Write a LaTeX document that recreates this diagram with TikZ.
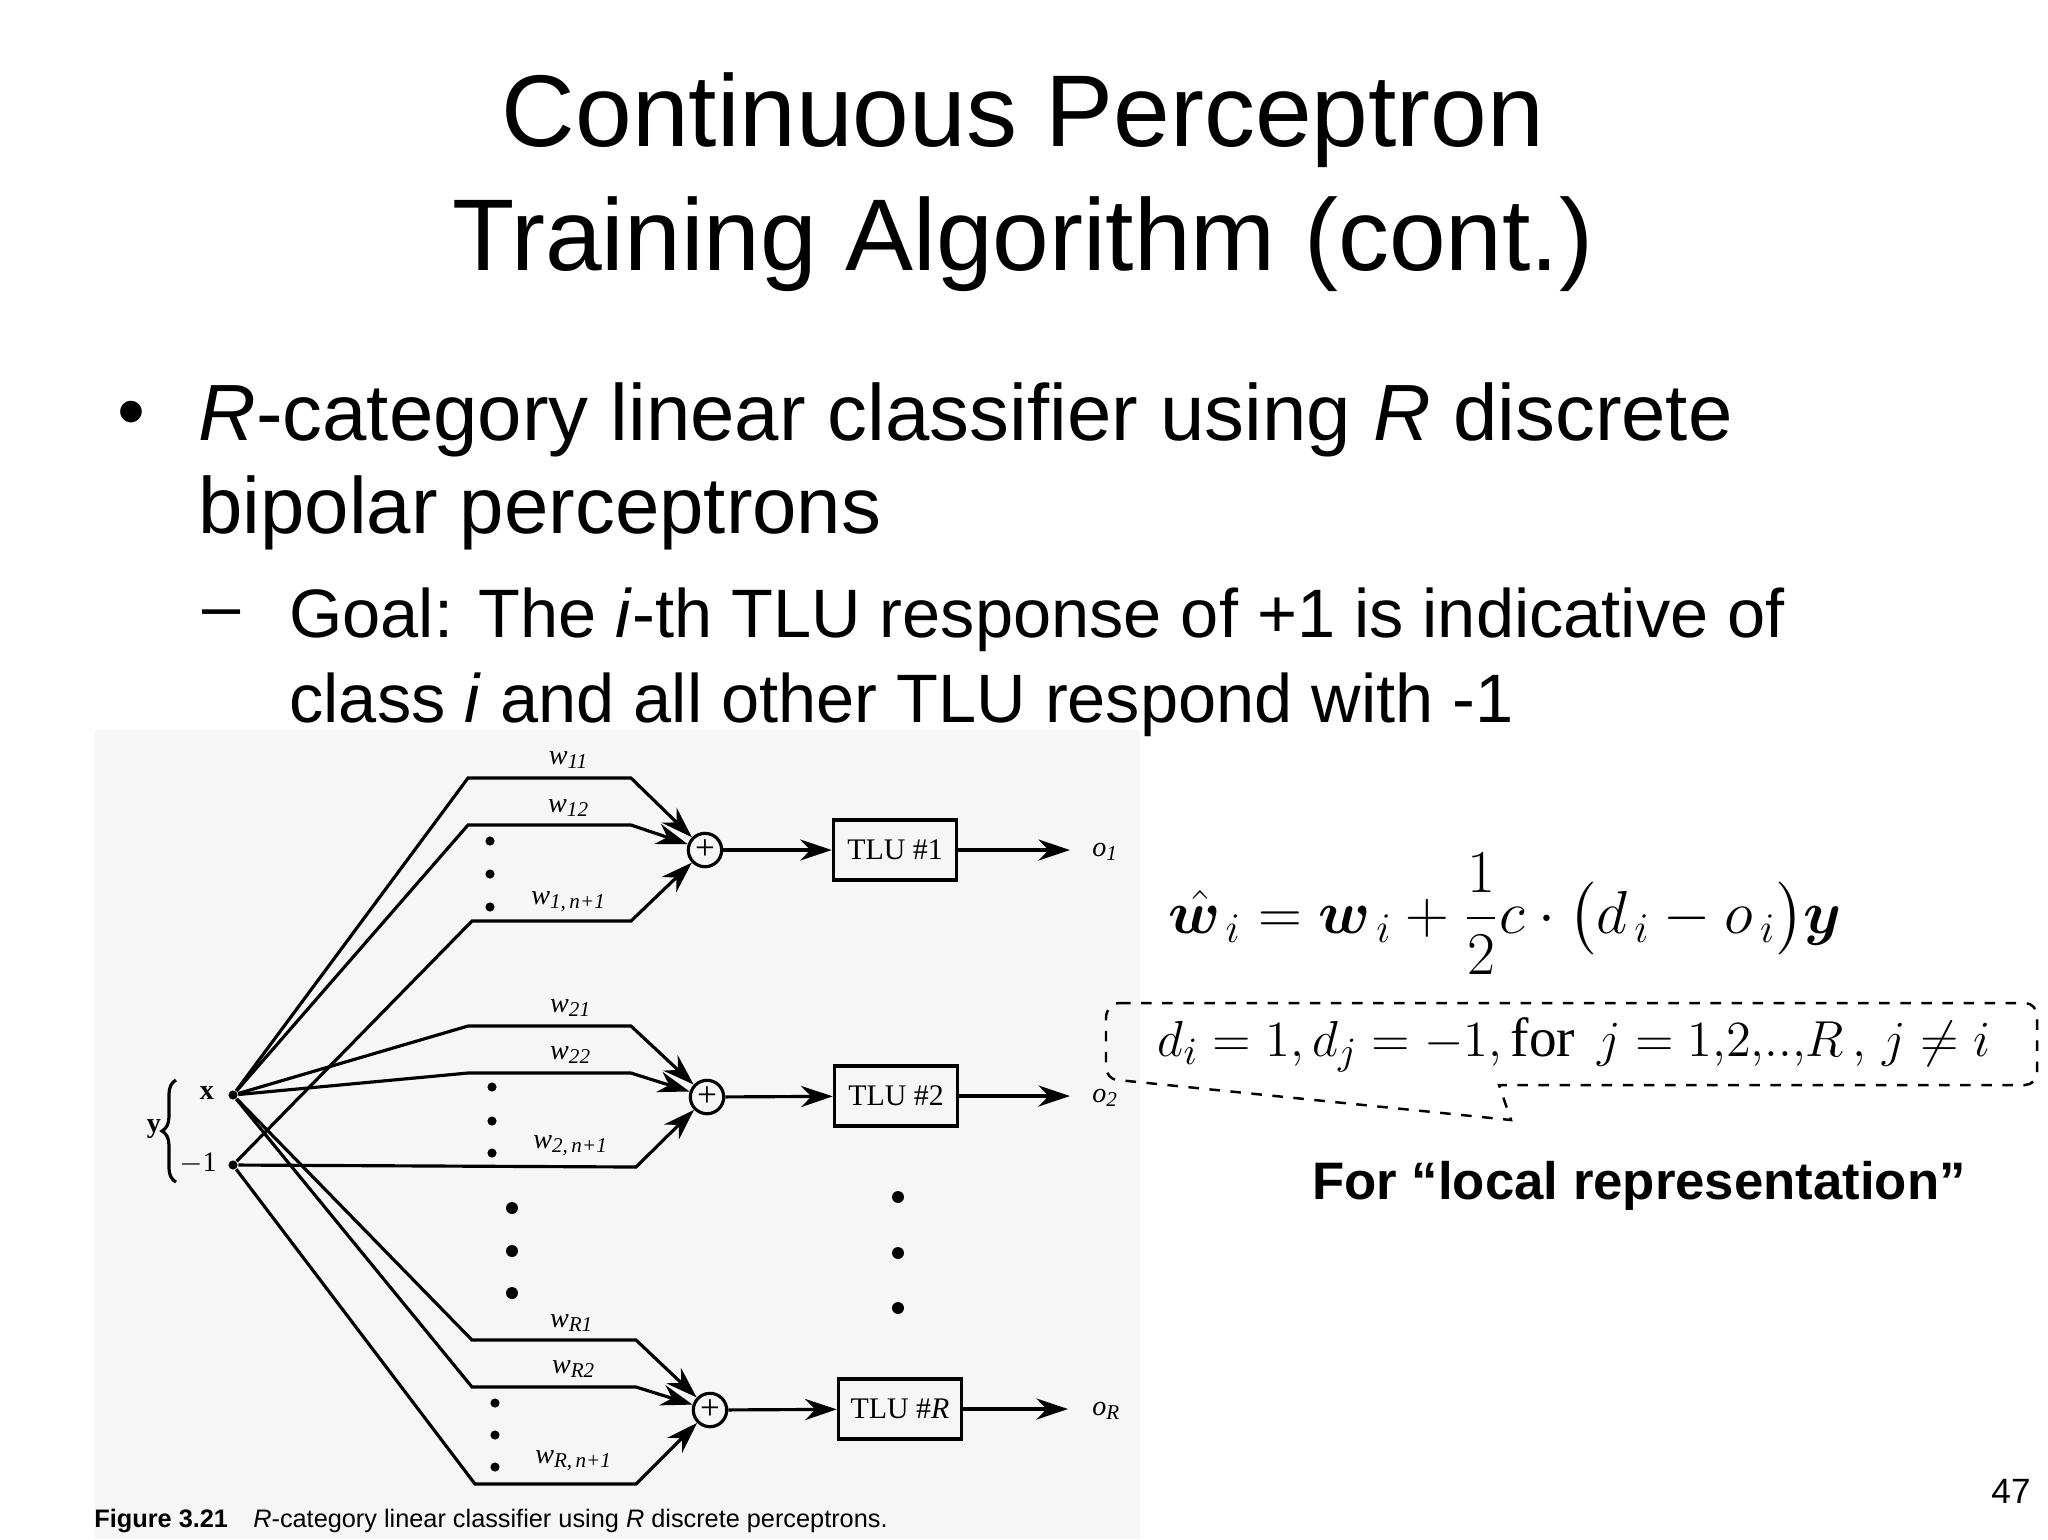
\documentclass[tikz,border=0pt]{standalone}
\usepackage{amsmath,bm}
\usepackage{fontspec}
\setmainfont{Liberation Sans}
\newfontfamily\tms{Liberation Serif}
\usetikzlibrary{arrows.meta,decorations.pathreplacing}
\begin{document}
\begin{tikzpicture}[x=0.1mm,y=-0.1mm,
  arr/.style={line width=0.9pt,-{Stealth[length=9pt,width=6pt]}},
  ln/.style={line width=0.9pt},
  sumn/.style={circle,draw,line width=0.9pt,minimum size=9.5pt,inner sep=0pt,font=\tms\fontsize{10}{10}\selectfont},
  tlu/.style={draw,line width=1pt,minimum width=35pt,minimum height=17pt,font=\tms\fontsize{8.5}{9}\selectfont},
  wl/.style={font=\tms\itshape\fontsize{8}{9}\selectfont},
  dt/.style={circle,fill,inner sep=0pt,minimum size=2.6pt},
  bdt/.style={circle,fill,inner sep=0pt,minimum size=3.4pt}]
\useasboundingbox (0,0) rectangle (2048,1539);
\fill[gray!7] (95,730) rectangle (1140,1539);
% title
\node (t1) at (1023,120) {\fontsize{29}{34}\selectfont Continuous Perceptron};
\node (t2) at (1023,244) {\fontsize{29}{34}\selectfont Training Algorithm (cont.)};
\node (b1) at (131,420) {\fontsize{22.7}{26}\selectfont •};
\node[anchor=west] (l1) at (186,420) {\fontsize{22.7}{26}\selectfont \textit{R}-category linear classifier using \textit{R} discrete};
\node[anchor=west] (l2) at (186,513) {\fontsize{22.7}{26}\selectfont bipolar perceptrons};
\node (b2) at (222,620) {\fontsize{19.5}{24}\selectfont –};
\node[anchor=west] (l3) at (277,620) {\fontsize{19.5}{24}\selectfont Goal: The \textit{i}-th TLU response of +1 is indicative of};
\node[anchor=west] (l4) at (277,705) {\fontsize{19.5}{24}\selectfont class \textit{i} and all other TLU respond with -1};
% inputs
\node[dt] (x) at (233,1095) {};
\node[dt] (m) at (233,1165) {};
\node[font=\tms\bfseries\fontsize{8}{9}\selectfont] (xl) at (207,1093) {x};
\node[font=\tms\fontsize{8}{9}\selectfont] (ml) at (198,1164) {$-$1};
\draw[ln,decorate,decoration={brace,amplitude=4pt}] (176,1182) -- (176,1080);
\node[font=\tms\bfseries\fontsize{8}{9}\selectfont] (yl) at (154,1129) {y};
% sums and TLUs
\node[sumn] (s1) at (705,850) {+};
\node[sumn] (s2) at (707,1097) {+};
\node[sumn] (sR) at (710,1410) {+};
\node[tlu] (T1) at (895,850) {TLU \#1};
\node[tlu] (T2) at (896,1096) {TLU \#2};
\node[tlu] (TR) at (900,1409) {TLU \#\textit{R}};
\coordinate (o1e) at (1070,850);
\coordinate (o2e) at (1070,1096);
\coordinate (oRe) at (1068,1409);
\draw[arr] (s1) -- (T1); \draw[arr] (T1) -- (o1e);
\draw[arr] (s2) -- (T2); \draw[arr] (T2) -- (o2e);
\draw[arr] (sR) -- (TR); \draw[arr] (TR) -- (oRe);
\node[wl,anchor=west] (o1) at (1080,852) {o\textsubscript{1}};
\node[wl,anchor=west] (o2) at (1080,1098) {o\textsubscript{2}};
\node[wl,anchor=west] (oR) at (1080,1411) {o\textsubscript{R}};
% group 1
\draw[arr] (x) -- (468,778) -- (631,778) -- (s1);
\draw[arr] (x) -- (468,825) -- (631,825) -- (s1);
\draw[arr] (m) -- (472,921) -- (631,921) -- (s1);
% group 2
\draw[arr] (x) -- (468,1026) -- (631,1026) -- (s2);
\draw[arr] (x) -- (468,1073) -- (631,1073) -- (s2);
\draw[arr] (m) -- (636,1167) -- (s2);
% group R
\draw[arr] (x) -- (472,1340) -- (636,1340) -- (sR);
\draw[arr] (x) -- (472,1387) -- (636,1387) -- (sR);
\draw[arr] (m) -- (475,1484) -- (636,1484) -- (sR);
% weight labels
\node[wl] (w11) at (569,760) {w\textsubscript{11}};
\node[wl] (w12) at (569,808) {w\textsubscript{12}};
\node[wl] (w1n) at (569,902) {w\textsubscript{1,\,n+1}};
\node[wl] (w21) at (571,1008) {w\textsubscript{21}};
\node[wl] (w22) at (571,1055) {w\textsubscript{22}};
\node[wl] (w2n) at (571,1146) {w\textsubscript{2,\,n+1}};
\node[wl] (wR1) at (572,1323) {w\textsubscript{R1}};
\node[wl] (wR2) at (574,1369) {w\textsubscript{R2}};
\node[wl] (wRn) at (574,1461) {w\textsubscript{R,\,n+1}};
% dots
\foreach \yy [count=\i] in {841,874,907} \node[dt] (da\i) at (490,\yy) {};
\foreach \yy [count=\i] in {1087,1121,1153} \node[dt] (db\i) at (492,\yy) {};
\foreach \yy [count=\i] in {1403,1435,1467} \node[dt] (dc\i) at (495,\yy) {};
\foreach \yy [count=\i] in {1208,1251,1293} \node[bdt] (dm\i) at (512,\yy) {};
\foreach \yy [count=\i] in {1197,1253,1308} \node[bdt] (dr\i) at (898,\yy) {};
% caption
\node[anchor=west,font=\fontsize{7.2}{9}\selectfont] (cap) at (82,1521) {\textbf{Figure 3.21}\quad\textit{R}-category linear classifier using \textit{R} discrete perceptrons.};
% formula
\node (eq) at (1505,914) {\fontsize{18.5}{22}\selectfont $\hat{\bm w}_{\,i} = \bm w_{\,i} + \dfrac{1}{2} c\cdot\bigl(d_{\,i} - o_{\,i}\bigr)\bm y$};
\draw[dashed,line width=0.7pt] (1120,1003) -- (2025,1003) to[out=0,in=90] (2037,1016) -- (2037,1072) to[out=-90,in=0] (2025,1085) -- (1499,1085) -- (1511,1120) -- (1118,1080) to[out=180,in=-90] (1106,1067) -- (1106,1018) to[out=90,in=180] (1120,1003);
\node (cond) at (1574,1045) {\fontsize{15.7}{19}\selectfont $d_i = 1, d_j = -1,\text{\tms for}\;\, j=1{,}2{,}..{,}R\,,\, j\neq i$};
\node[font=\bfseries\fontsize{15}{18}\selectfont] (loc) at (1639,1186) {For “local representation”};
\node[font=\fontsize{10}{12}\selectfont] (pg) at (2011,1491) {47};
\end{tikzpicture}
\end{document}
